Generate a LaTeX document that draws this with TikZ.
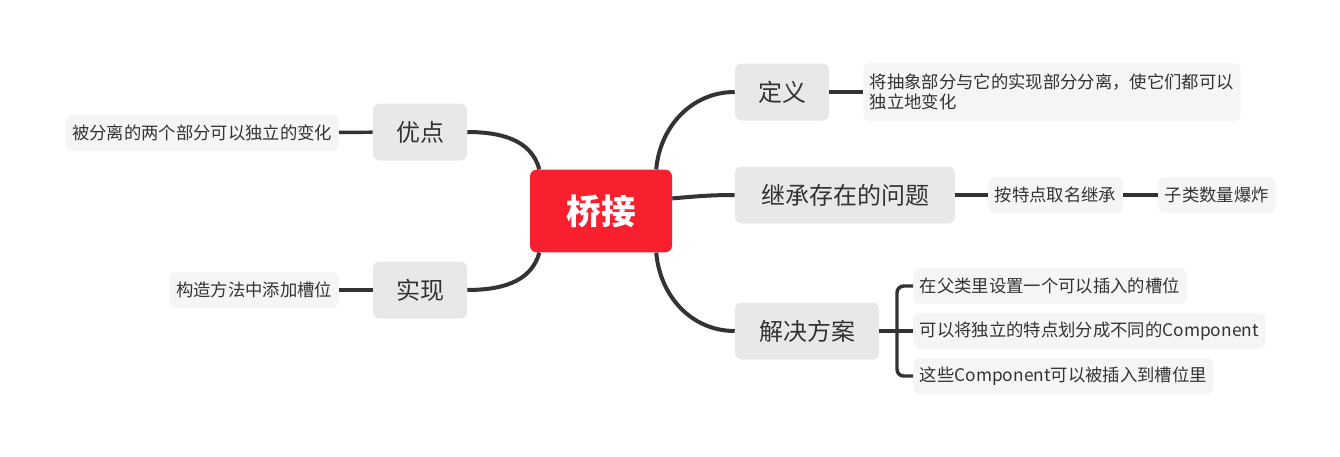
\documentclass[tikz,border=0pt]{standalone}
\usepackage{fontspec}
\setmainfont{Noto Sans CJK SC}
\usepackage{xcolor}
\usetikzlibrary{positioning}

\definecolor{rootred}{HTML}{F8202F}
\definecolor{topicgray}{HTML}{E8E8E8}
\definecolor{subgray}{HTML}{F5F5F5}
\definecolor{inkgray}{HTML}{333333}

\begin{document}
\begin{tikzpicture}[
      x=0.75pt, y=0.75pt,
      raiz/.style={fill=rootred, rounded corners=5pt, minimum width=106.5pt, minimum height=62pt, font=\fontsize{26}{30}\selectfont\bfseries, text=white},
      topico/.style={fill=topicgray, rounded corners=5pt, minimum width=70.5pt, minimum height=42.75pt, font=\fontsize{18}{22}\selectfont, text=inkgray},
      subtopico/.style={fill=subgray, rounded corners=5pt, minimum height=27pt, inner xsep=5pt, font=\fontsize{13}{15}\selectfont, text=inkgray},
      ramo/.style={draw=inkgray, line width=3pt},
      galho/.style={draw=inkgray, line width=2.6pt}
  ]
      \useasboundingbox (0,0) rectangle (1340,-457);

      % Nó central
      \node[raiz] (root) at (601,-211) {桥接};

      % Tópicos principais (direita)
      \node[topico] (def) at (782,-92) {定义};
      \node[topico, minimum width=165pt] (prob) at (845,-195) {继承存在的问题};
      \node[topico, minimum width=108pt] (sol) at (807,-331) {解决方案};

      % Tópicos principais (esquerda)
      \node[topico] (adv) at (420,-132) {优点};
      \node[topico] (impl) at (420,-290) {实现};

      % Subtópicos
      \node[subtopico, anchor=west, minimum height=43.5pt, align=left] (edef) at (863,-92) {将抽象部分与它的实现部分分离，使它们都可以\\独立地变化};
      \node[subtopico, anchor=west] (eprob1) at (988,-195) {按特点取名继承};
      \node[subtopico, anchor=west] (eprob2) at (1158,-195) {子类数量爆炸};
      \node[subtopico, anchor=west] (esol1) at (913,-286) {在父类里设置一个可以插入的槽位};
      \node[subtopico, anchor=west] (esol2) at (913,-331) {可以将独立的特点划分成不同的Component};
      \node[subtopico, anchor=west] (esol3) at (913,-376) {这些Component可以被插入到槽位里};
      \node[subtopico, anchor=east] (eadv) at (339,-133) {被分离的两个部分可以独立的变化};
      \node[subtopico, anchor=east] (eimpl) at (339,-290) {构造方法中添加槽位};
      \coordinate (bus) at (897,-331);

      % Ramos do nó central
      \draw[ramo] (root.37) to[out=85,in=180] (def.west);
      \draw[ramo] (root.10) to[out=5,in=180] (prob.west);
      \draw[ramo] (root.-37) to[out=-85,in=180] (sol.west);
      \draw[ramo] (adv.east) to[out=0,in=105] (root.146);
      \draw[ramo] (impl.east) to[out=0,in=-105] (root.-146);

      % Galhos dos tópicos
      \draw[galho] (def) -- (edef);
      \draw[galho] (prob) -- (eprob1);
      \draw[galho] (eprob1) -- (eprob2);
      \draw[galho] (adv) -- (eadv);
      \draw[galho] (impl) -- (eimpl);
      \draw[galho] (sol.east) -- (bus) -- (esol2.west);
      \draw[galho, rounded corners=5pt] (esol1.west) -| (bus) |- (esol3.west);

  \end{tikzpicture}
\end{document}
